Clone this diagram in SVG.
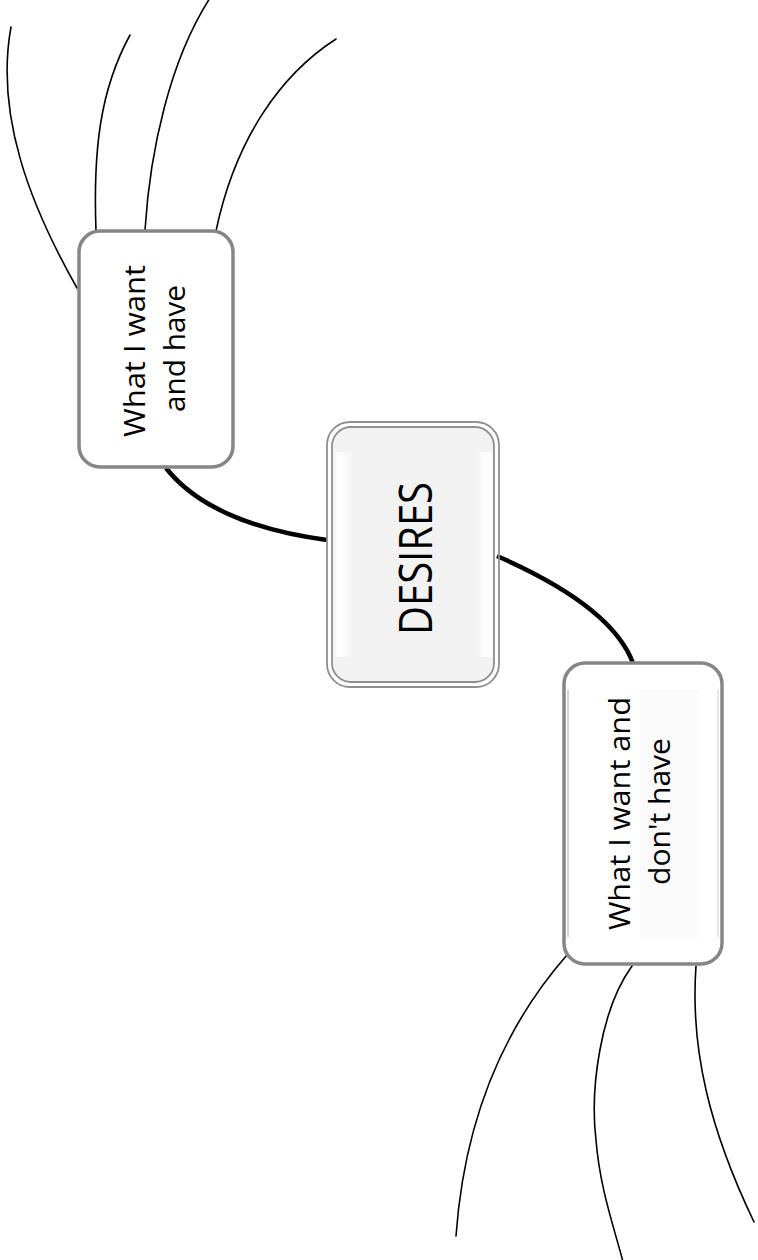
<svg xmlns="http://www.w3.org/2000/svg" width="758" height="1260" viewBox="0 0 758 1260">
  <defs>
    <linearGradient id="centerShine" x1="0" y1="0" x2="1" y2="0">
      <stop offset="0" stop-color="#f2f2f2"/>
      <stop offset="0.04" stop-color="#ffffff"/>
      <stop offset="0.1" stop-color="#f8f8f8"/>
      <stop offset="0.13" stop-color="#f2f2f2"/>
      <stop offset="0.9" stop-color="#f2f2f2"/>
      <stop offset="0.93" stop-color="#fbfbfb"/>
      <stop offset="0.99" stop-color="#ffffff"/>
      <stop offset="1" stop-color="#f2f2f2"/>
    </linearGradient>
  </defs>
  <style>
    .branch { fill: none; stroke: #000; stroke-width: 1.6; stroke-linecap: round; }
    .trunk { fill: none; stroke: #000; stroke-width: 4.5; }
    .box { fill: #fff; stroke: #868686; stroke-width: 3.5; }
    .ring { fill: none; stroke: #8f8f8f; stroke-width: 1.8; }
    .label { font-family: "Open Sans", "Noto Sans", sans-serif; font-size: 29px; fill: #000; text-anchor: middle; }
    .title { font-family: "Open Sans", "Noto Sans", sans-serif; font-size: 45px; font-weight: 500; fill: #000; text-anchor: middle; }
  </style>

  <rect width="758" height="1260" fill="#fff"/>

  <!-- connectors -->
  <g id="connectors">
    <path class="trunk" d="M166,468 C195,505 250,530 327,540"/>
    <path class="trunk" d="M497,556 C552,580 615,615 633,663"/>
    <!-- branches above "What I want and have" -->
    <path class="branch" d="M77,288 C30,205 -5,115 11,27"/>
    <path class="branch" d="M96,231 C93,150 100,90 130,35"/>
    <path class="branch" d="M145,230 C150,150 170,60 210,-2"/>
    <path class="branch" d="M216,231 C235,140 280,75 336,39"/>
    <!-- branches below "What I want and don't have" -->
    <path class="branch" d="M567,955 C510,1020 465,1110 456,1236"/>
    <path class="branch" d="M632,966 C600,1010 590,1090 596,1140 C600,1190 615,1230 623,1262"/>
    <path class="branch" d="M696,966 C690,1050 710,1130 754,1222"/>
  </g>

  <!-- central topic -->
  <g id="node-desires">
    <rect class="ring" x="327" y="422" width="172" height="265" rx="23"/>
    <rect class="ring" x="332" y="427" width="162" height="255" rx="19" fill="#f2f2f2" style="fill:#f2f2f2"/>
    <rect x="333" y="452" width="160" height="205" fill="url(#centerShine)"/>
    <text class="title" transform="translate(432,558.5) rotate(-90)" textLength="153" lengthAdjust="spacingAndGlyphs">DESIRES</text>
  </g>

  <!-- upper branch topic -->
  <g id="node-have">
    <rect class="box" x="79" y="231" width="154" height="236" rx="21"/>
    <text class="label" transform="translate(145,351) rotate(-90)" textLength="172" lengthAdjust="spacingAndGlyphs">What I want</text>
    <text class="label" transform="translate(185,348.5) rotate(-90)" textLength="127" lengthAdjust="spacingAndGlyphs">and have</text>
  </g>

  <!-- lower branch topic -->
  <g id="node-dont-have">
    <rect class="box" x="564" y="663" width="158" height="301" rx="21"/>
    <rect x="640" y="690" width="60" height="247" fill="#fafafa"/>
    <line x1="568" y1="690" x2="568" y2="937" stroke="#c4c4c4" stroke-width="1.5"/>
    <line x1="718" y1="690" x2="718" y2="937" stroke="#dcdcdc" stroke-width="1.5"/>
    <text class="label" transform="translate(630,813.5) rotate(-90)" textLength="233" lengthAdjust="spacingAndGlyphs">What I want and</text>
    <text class="label" transform="translate(670,811.5) rotate(-90)" textLength="147" lengthAdjust="spacingAndGlyphs">don't have</text>
  </g>
</svg>
